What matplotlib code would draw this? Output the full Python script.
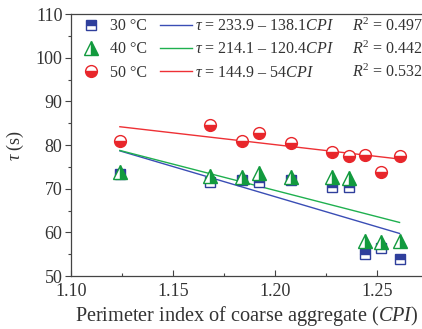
import numpy as np
import matplotlib
matplotlib.use("Agg")
import matplotlib.pyplot as plt
from matplotlib.ticker import MultipleLocator, FormatStrFormatter

plt.rcParams['font.family'] = ['Liberation Serif', 'DejaVu Serif']
plt.rcParams['mathtext.fontset'] = 'custom'
plt.rcParams['mathtext.rm'] = 'Liberation Serif'
plt.rcParams['mathtext.it'] = 'Liberation Serif:italic'

# perimeter index of coarse aggregate
cpi = [1.124, 1.168, 1.184, 1.192, 1.208, 1.228, 1.236, 1.244, 1.252, 1.261]

# relaxation time tau (s) at each temperature
tau_30 = [73.4, 71.6, 72.0, 71.6, 71.9, 70.4, 70.4, 55.0, 56.5, 54.0]
tau_40 = [73.8, 73.0, 72.6, 73.7, 72.6, 72.8, 72.4, 58.0, 57.9, 58.1]
tau_50 = [81.0, 84.6, 81.0, 82.7, 80.4, 78.5, 77.5, 77.7, 73.9, 77.6]

temps = ['30 °C', '40 °C', '50 °C']
# fit: tau = a - b * CPI
fit_a = [233.9, 214.1, 144.9]
fit_b = [138.1, 120.4, 54]
fit_r2 = [0.497, 0.442, 0.532]
fit_labels = [r'$\tau$ = 233.9 – 138.1$CPI$',
              r'$\tau$ = 214.1 – 120.4$CPI$',
              r'$\tau$ = 144.9 – 54$CPI$']

colors = ['#2f3f9c', '#129a3e', '#e8262b']
line_colors = ['#3a4db5', '#1fb04f', '#ee3035']
markers = ['s', '^', 'o']
fills = ['top', 'right', 'bottom']
msizes = [7.0, 9.5, 8.5]

fig = plt.figure(figsize=(4.22, 3.29), dpi=100)
ax = fig.add_axes([0.168, 0.161, 0.832, 0.796])

ys = [tau_30, tau_40, tau_50]
pt_handles = []
ln_handles = []
for i in range(3):
    h, = ax.plot(cpi, ys[i], linestyle='none', marker=markers[i], ms=msizes[i],
                 fillstyle=fills[i], color=colors[i], markerfacecoloralt='white',
                 markeredgecolor=colors[i], markeredgewidth=1.0, label=temps[i], zorder=3)
    pt_handles.append(h)
    xs = np.array([cpi[0], cpi[-1]])
    l, = ax.plot(xs, fit_a[i] - fit_b[i] * xs, color=line_colors[i], lw=1.0,
                 label=fit_labels[i], zorder=2)
    ln_handles.append(l)

ax.set_xlim(1.10, 1.272)
ax.set_ylim(50, 110)
ax.xaxis.set_major_locator(MultipleLocator(0.05))
ax.xaxis.set_minor_locator(MultipleLocator(0.025))
ax.yaxis.set_major_locator(MultipleLocator(10))
ax.yaxis.set_minor_locator(MultipleLocator(5))
ax.xaxis.set_major_formatter(FormatStrFormatter('%.2f'))

ax.spines['right'].set_visible(False)
for s in ['left', 'bottom', 'top']:
    ax.spines[s].set_color('#444444')
    ax.spines[s].set_linewidth(0.9)
ax.tick_params(axis='y', which='major', direction='out', length=4, width=0.8,
               color='#444444', labelsize=13, labelcolor='#333333', pad=2)
ax.tick_params(axis='y', which='minor', direction='out', length=2.5, width=0.8, color='#444444')
ax.tick_params(axis='x', which='major', direction='in', length=4, width=0.8,
               color='#444444', labelsize=13, labelcolor='#333333', pad=5)
ax.tick_params(axis='x', which='minor', direction='in', length=2.5, width=0.8, color='#444444')

ax.set_xlabel('Perimeter index of coarse aggregate ($CPI$)', fontsize=14.6,
              color='#333333', labelpad=3)
ax.set_ylabel(r'$\tau$ (s)', fontsize=13, color='#333333', labelpad=7)

leg = ax.legend(pt_handles + ln_handles, temps + fit_labels, ncol=2, loc='upper left',
                frameon=False, fontsize=11.5, handlelength=2.0, handletextpad=0.2,
                columnspacing=0.8, borderaxespad=0.0, borderpad=0.25, labelspacing=0.45,
                labelcolor='#333333')

# R^2 column, aligned to the legend rows
fig.canvas.draw()
inv = ax.transAxes.inverted()
for i, t in enumerate(leg.get_texts()[3:]):
    bb = t.get_window_extent()
    yc = inv.transform((0, (bb.y0 + bb.y1) / 2))[1]
    ax.text(0.80, yc, r'$R^2$ = %.3f' % fit_r2[i], transform=ax.transAxes,
            fontsize=11.5, color='#333333', va='center', ha='left')

fig.savefig('out.png', dpi=100)
